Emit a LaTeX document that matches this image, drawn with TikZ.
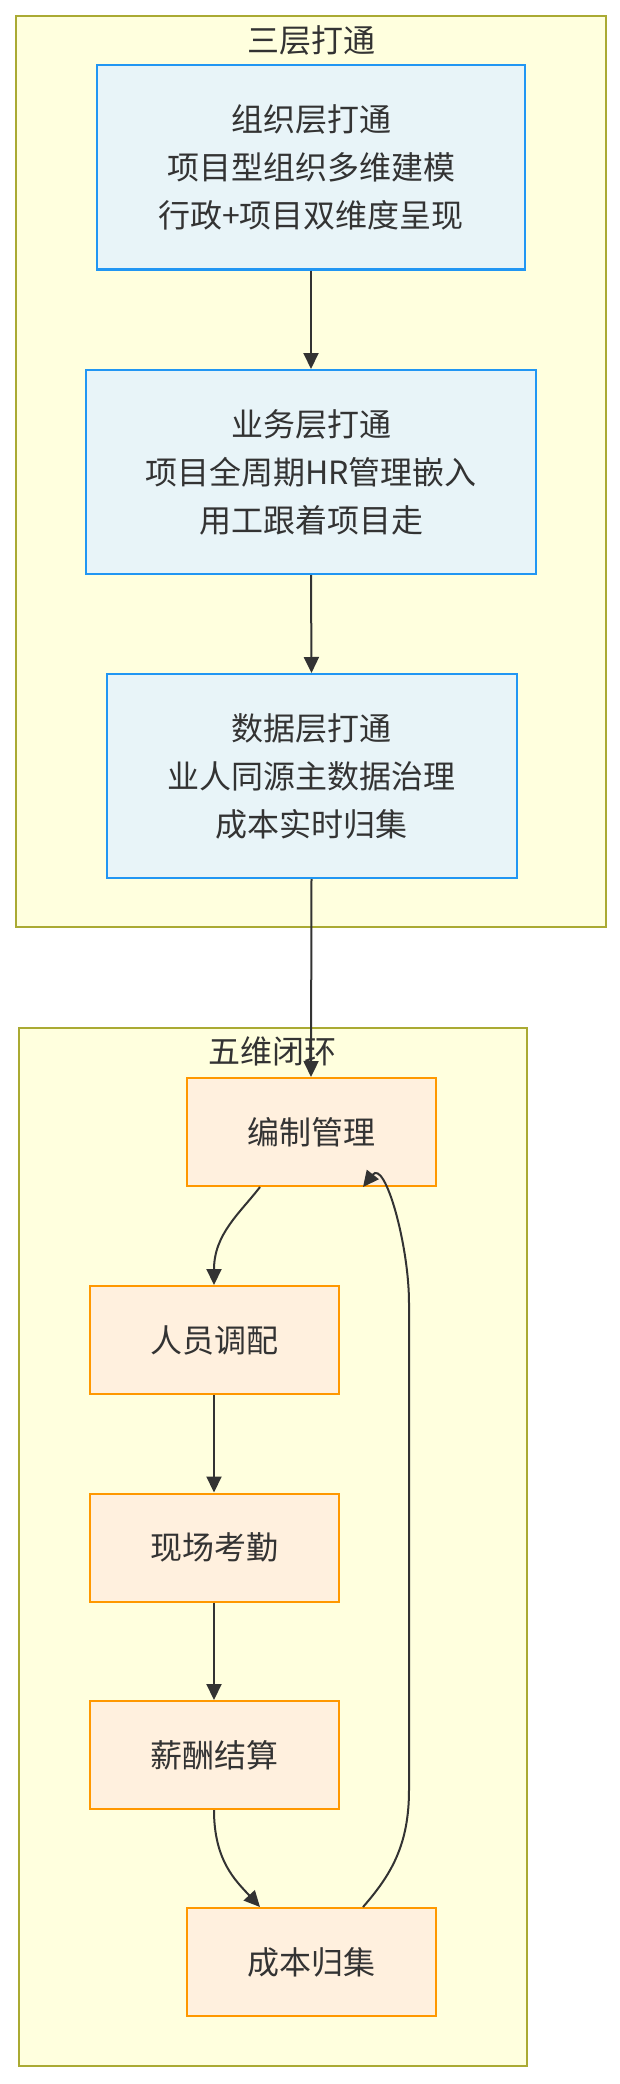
\documentclass[tikz,border=0pt]{standalone}
\usepackage{fontspec}
\setmainfont{Noto Sans CJK SC}
\usetikzlibrary{arrows.meta}
\definecolor{clfill}{HTML}{FFFFDE}
\definecolor{clborder}{HTML}{AAAA33}
\definecolor{bfill}{HTML}{E8F4F8}
\definecolor{bborder}{HTML}{2196F3}
\definecolor{ofill}{HTML}{FFF0DE}
\definecolor{oborder}{HTML}{FF9800}
\definecolor{txt}{HTML}{333333}
\definecolor{lcol}{HTML}{333333}
\tikzset{
  cluster/.style={draw=clborder, fill=clfill, line width=2pt, inner sep=0pt},
  bluebox/.style={draw=bborder, fill=bfill, line width=2pt, inner sep=0pt, align=center,
    text=txt, font=\fontsize{32}{48}\selectfont, minimum height=204pt},
  orgbox/.style={draw=oborder, fill=ofill, line width=2pt, inner sep=0pt,
    minimum width=249pt, minimum height=108pt, text=txt, font=\fontsize{32}{48}\selectfont},
  arr/.style={draw=lcol, line width=2pt, -{Triangle[length=16pt,width=15pt]}},
  ttl/.style={text=txt, font=\fontsize{32}{48}\selectfont, inner sep=0pt}
}
\begin{document}
\begin{tikzpicture}[x=1pt,y=-1pt]
\useasboundingbox (0,0) rectangle (619,2084);
\fill[white] (0,0) rectangle (619,2084);
% clusters
\node (c1) [cluster, minimum width=590pt, minimum height=911pt] at (311,471.5) {};
\node (c2) [cluster, minimum width=508pt, minimum height=1038pt] at (273,1547) {};
\node (t1) [ttl] at (311,40) {三层打通};
\node (t2) [ttl] at (272,1051) {五维闭环};
% blue boxes
\node (b1) [bluebox, minimum width=428pt] at (311,167.5) {组织层打通\\项目型组织多维建模\\行政+项目双维度呈现};
\node (b2) [bluebox, minimum width=450pt] at (311,472) {业务层打通\\项目全周期HR管理嵌入\\用工跟着项目走};
\node (b3) [bluebox, minimum width=410pt] at (311.5,776) {数据层打通\\业人同源主数据治理\\成本实时归集};
% orange boxes
\node (n1) [orgbox] at (311.5,1132) {编制管理};
\node (n2) [orgbox] at (214,1340) {人员调配};
\node (n3) [orgbox] at (214,1547.5) {现场考勤};
\node (n4) [orgbox] at (214,1755) {薪酬结算};
\node (n5) [orgbox] at (311.5,1962) {成本归集};
% connectors
\draw[arr] (b1.south) -- (b2.north);
\draw[arr] (b2.south) -- (b3.north);
\draw[arr] (b3.south) -- ([xshift=-0.5pt]n1.north);
\draw[arr] ([xshift=-51.5pt]n1.south) .. controls +(-20,26) and +(0,-51) .. (n2.north);
\draw[arr] (n2.south) -- (n3.north);
\draw[arr] (n3.south) -- (n4.north);
\draw[arr] (n4.south) .. controls +(0,51) and +(-24,-26) .. ([xshift=-51.5pt]n5.north);
\coordinate (r1) at (409,1790);
\coordinate (r2) at (409,1303);
\draw[arr] ([xshift=51.5pt]n5.north) .. controls +(28,-32) and +(0,55) .. (r1) -- (r2)
  .. controls +(0,-58) and +(22,-28) .. ([xshift=51.5pt]n1.south);
\end{tikzpicture}
\end{document}
